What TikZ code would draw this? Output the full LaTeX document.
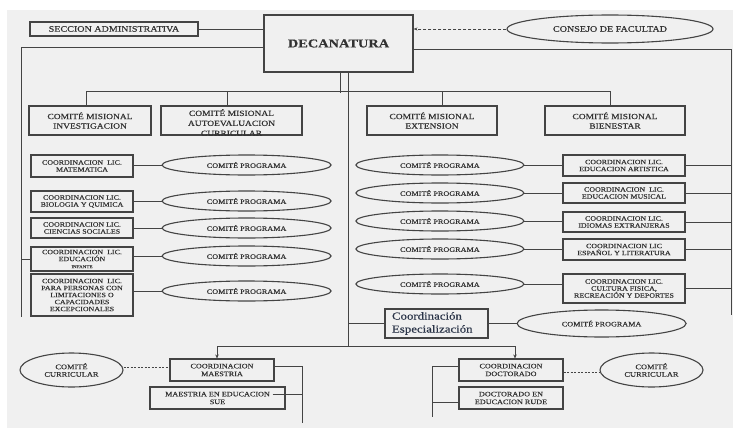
\documentclass[tikz,border=0pt]{standalone}
\usepackage{fontspec}
\setmainfont{Liberation Serif}[FakeStretch=1.2,FakeBold=0.45]
\usepackage{tikz}
\usetikzlibrary{
  shapes.geometric,
  arrows.meta,
  positioning, calc
}
\definecolor{pagegray}{RGB}{240,240,240}
\definecolor{linegray}{RGB}{68,68,68}
\definecolor{txtgray}{RGB}{50,50,50}
\definecolor{espblue}{RGB}{42,52,72}
\tikzset{
  basebox/.style={rectangle,draw=linegray,line width=1.1pt,inner sep=0pt,align=center,text=txtgray},
  secnode/.style={basebox,minimum width=168pt,minimum height=14pt,font=\fontsize{8.4}{9}\selectfont},
  decnode/.style={basebox,minimum width=149pt,minimum height=57pt,font=\fontsize{12}{14}\selectfont\bfseries},
  comnode/.style={basebox,minimum height=29pt,font=\fontsize{7.9}{9.5}\selectfont},
  coordnode/.style={basebox,minimum width=102pt,font=\fontsize{6.6}{7}\selectfont},
  mainnode/.style={basebox,minimum width=104pt,minimum height=22pt,font=\fontsize{6.8}{7.8}\selectfont},
  espnode/.style={basebox,minimum width=103pt,minimum height=29pt,text width=89pt,align=left,
                  text=espblue,font=\fontsize{10.7}{13}\selectfont},
  progell/.style={ellipse,draw=linegray,line width=1.1pt,inner sep=0pt,minimum width=169pt,
                  minimum height=20pt,text=txtgray,font=\fontsize{6.8}{7}\selectfont},
  consell/.style={progell,minimum width=206pt,minimum height=28pt,font=\fontsize{8.4}{9}\selectfont},
  curell/.style={progell,minimum width=103pt,minimum height=34pt,align=center,font=\fontsize{7}{7.5}\selectfont},
  conn/.style={draw=linegray,line width=0.9pt},
  arr/.style={conn,-{Stealth[length=4pt,width=3.5pt]}},
  dasharr/.style={conn,line width=0.8pt,dash pattern=on 3pt off 2pt,-{Stealth[length=4pt,width=3pt]}},
  dotline/.style={conn,line width=0.8pt,dash pattern=on 2pt off 1.5pt}
}

\begin{document}
\begin{tikzpicture}[x=1pt,y=-1pt]

  \useasboundingbox (0,0) rectangle (733,428);
  \fill[pagegray] (7,10) rectangle (733,428);

  %% Top level
  \node[decnode] (dec) at (338.5,43.5) {DECANATURA};
  \node[secnode] (sec) at (114,29) {SECCION ADMINISTRATIVA};
  \node[consell] (cons) at (610,29) {CONSEJO DE FACULTAD};

  %% Mission committees
  \node[comnode,minimum width=122pt] (inv) at (90,120.5)
    {COMITÉ MISIONAL\\INVESTIGACION};
  \node[comnode,minimum width=141pt] (auto) at (231.5,120.5) {};
  \begin{scope}
    \clip (auto.south west) rectangle (auto.north east);
    \node[anchor=north,inner sep=0pt,align=center,text=txtgray,font=\fontsize{7.9}{10}\selectfont]
      (autotxt) at ([yshift=-3.5pt]auto.north) {COMITÉ MISIONAL\\AUTOEVALUACION\\CURRICULAR};
  \end{scope}
  \node[comnode,minimum width=130pt] (ext) at (432,120.5)
    {COMITÉ MISIONAL\\EXTENSION};
  \node[comnode,minimum width=140pt] (bien) at (615,120.5)
    {COMITÉ MISIONAL\\BIENESTAR};

  %% Left programmes
  \node[coordnode,minimum height=22pt] (l1) at (82,166)
    {COORDINACION\ \ LIC.\\MATEMATICA};
  \node[coordnode,minimum height=21pt] (l2) at (82,201.5)
    {COORDINACION LIC.\\BIOLOGIA Y QUIMICA};
  \node[coordnode,minimum height=20pt] (l3) at (82,228)
    {COORDINACION LIC.\\CIENCIAS SOCIALES};
  \node[coordnode,minimum height=24pt] (l4) at (82,259)
    {COORDINACION\ \ LIC.\\EDUCACIÓN\\{\fontsize{4.2}{5}\selectfont INFANTE}};
  \node[coordnode,minimum height=42pt] (l5) at (82,295)
    {COORDINACION\ \ LIC.\\PARA PERSONAS CON\\LIMITACIONES O\\CAPACIDADES\\EXCEPCIONALES};

  \node[progell,right=28pt of l1,yshift=1pt] (lp1) {COMITÉ PROGRAMA};
  \node[progell,right=28pt of l2,yshift=0.5pt] (lp2) {COMITÉ PROGRAMA};
  \node[progell,right=28pt of l3] (lp3) {COMITÉ PROGRAMA};
  \node[progell,right=28pt of l4,yshift=3pt] (lp4) {COMITÉ PROGRAMA};
  \node[progell,right=28pt of l5,yshift=4pt] (lp5) {COMITÉ PROGRAMA};

  %% Right programmes
  \node[coordnode,minimum width=122pt,minimum height=21pt] (r1) at (624,165.5)
    {COORDINACION LIC.\\EDUCACION ARTISTICA};
  \node[coordnode,minimum width=122pt,minimum height=20pt] (r2) at (624,193)
    {COORDINACION\ \ LIC.\\EDUCACION MUSICAL};
  \node[coordnode,minimum width=122pt,minimum height=20pt] (r3) at (624,222)
    {COORDINACION LIC.\\IDIOMAS EXTRANJERAS};
  \node[coordnode,minimum width=122pt,minimum height=21pt] (r4) at (624,249.5)
    {COORDINACION LIC\\ESPAÑOL Y LITERATURA};
  \node[coordnode,minimum width=122pt,minimum height=29pt] (r5) at (624,288.5)
    {COORDINACION LIC.\\CULTURA FISICA,\\RECREACIÓN Y DEPORTES};

  \node[progell,minimum width=168pt,left=38pt of r1,yshift=0.5pt] (rp1) {COMITÉ PROGRAMA};
  \node[progell,minimum width=168pt,left=38pt of r2] (rp2) {COMITÉ PROGRAMA};
  \node[progell,minimum width=168pt,left=38pt of r3,yshift=1pt] (rp3) {COMITÉ PROGRAMA};
  \node[progell,minimum width=168pt,left=38pt of r4,yshift=0.5pt] (rp4) {COMITÉ PROGRAMA};
  \node[progell,minimum width=168pt,left=38pt of r5,yshift=4.5pt] (rp5) {COMITÉ PROGRAMA};

  %% Specialisation
  \node[espnode] (esp) at (436.5,323.5) {Coordinación\\Especialización};
  \node[progell,right=28pt of esp,minimum height=27pt] (espcp) {COMITÉ PROGRAMA};

  %% Master / doctorate
  \node[mainnode] (mae) at (222,370) {COORDINACION\\MAESTRIA};
  \node[mainnode,minimum width=135pt] (mes) at (217.5,398) {MAESTRIA EN EDUCACION\\SUE};
  \node[mainnode] (doc) at (511,370) {COORDINACION\\DOCTORADO};
  \node[mainnode] (rude) at (511,398) {DOCTORADO EN\\EDUCACION RUDE};
  \node[curell] (cc1) at (71.5,370) {COMITÉ\\CURRICULAR};
  \node[curell] (cc2) at (651.5,370) {COMITÉ\\CURRICULAR};

  %% ── CONNECTORS ──────────────────────────────────────────
  \coordinate (lbus) at (21,317);
  \coordinate (rbus) at (731,315);
  \coordinate (mbus) at (348,346);
  \coordinate (mvbus) at (302,423);
  \coordinate (dvbus) at (432,417);

  %% top
  \draw[conn] (sec.east) -- (sec.east -| dec.west);
  \draw[dasharr] (cons.west) -- (cons.west -| dec.east);

  %% side buses
  \draw[conn] ([yshift=-3.5pt]dec.west) -| (lbus);
  \draw[conn] (l4.west) -- (l4.west -| lbus);
  \draw[conn] ([yshift=-5.5pt]dec.east) -| (rbus);
  \foreach \r in {r1,r2,r3,r4,r5}
    \draw[conn] (\r.east) -- (\r.east -| rbus);

  %% committees
  \draw[conn] ([xshift=1.5pt]dec.south) -- ++(0,20);
  \draw[conn] ([xshift=-4pt]inv.north) -- ++(0,-14) -| ([xshift=-5pt]bien.north);
  \draw[conn] ([xshift=-4.5pt]auto.north) -- ++(0,-14);
  \draw[conn] ([xshift=10pt]ext.north) -- ++(0,-14);

  %% programmes
  \foreach \b/\e in {l1/lp1,l2/lp2,l3/lp3,l4/lp4,l5/lp5}
    \draw[conn] (\e.west -| \b.east) -- (\e.west);
  \foreach \b/\e in {r1/rp1,r2/rp2,r3/rp3,r4/rp4,r5/rp5}
    \draw[conn] (\e.east) -- (\e.east -| \b.west);

  %% main line
  \draw[conn] ([xshift=9.5pt]dec.south) -- (mbus);
  \draw[conn] (esp.west -| mbus) -- (esp.west);
  \draw[conn] (esp.east) -- (espcp.west);
  \draw[arr] (mbus) -| ([xshift=-5pt]mae.north);
  \draw[arr] (mbus) -| ([xshift=4pt]doc.north);

  %% master
  \draw[dotline] ([yshift=3pt]cc1.east) -- ([yshift=3pt]cc1.east -| mae.west);
  \draw[conn] ([yshift=4pt]mae.east) -| (mvbus);
  \draw[conn] ([xshift=-13pt,yshift=4pt]mes.east) -- ([yshift=4pt]mes.east -| mvbus);

  %% doctorate
  \draw[dotline] ([yshift=-2pt]doc.east) -- ([yshift=-2pt]doc.east -| cc2.west);
  \draw[conn] ([yshift=4pt]doc.west) -| (dvbus);
  \draw[conn] ([yshift=-4pt]rude.west) -- ([yshift=-4pt]rude.west -| dvbus);

\end{tikzpicture}
\end{document}
